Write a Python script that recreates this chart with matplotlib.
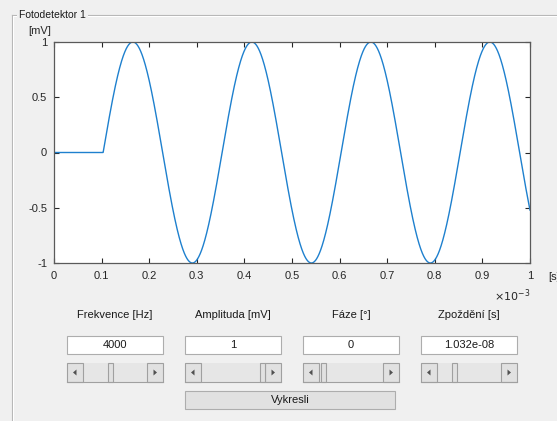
import numpy as np
import matplotlib.pyplot as plt
from matplotlib.patches import Rectangle, Polygon
from matplotlib.ticker import FuncFormatter

# ==========================================
# DATA
# ==========================================

frequency_hz = 4000
amplitude_mv = 1
phase_deg = 0
onset_s = 1.032e-4

x_ticks = np.arange(0, 1.0001e-3, 1e-4)
y_ticks = [-1, -0.5, 0, 0.5, 1]

field_labels = ["Frekvence [Hz]", "Amplituda [mV]", "Fáze [°]", "Zpoždění [s]"]
field_values = ["4000", "1", "0", "1.032e-08"]
slider_positions = [0.42, 1.0, 0.03, 0.25]

t = np.linspace(0, 1e-3, 4001)
signal = np.where(
    t < onset_s,
    0.0,
    amplitude_mv * np.sin(2 * np.pi * frequency_hz * (t - onset_s) + np.radians(phase_deg))
)

# ==========================================
# THEME
# ==========================================

BACKGROUND = "#F0F0F0"
LINE = "#1E80CE"
AXIS = "#262626"
BORDER = "#ADADAD"
FONT = "Liberation Sans"

plt.rcParams["font.family"] = [FONT, "DejaVu Sans"]
plt.rcParams["axes.unicode_minus"] = False

W, H = 557, 421

fig = plt.figure(figsize=(W / 100, H / 100), dpi=100, facecolor=BACKGROUND)

# overlay in pixel coordinates for the GUI widgets
ov = fig.add_axes([0, 0, 1, 1])
ov.set_xlim(0, W)
ov.set_ylim(H, 0)
ov.axis("off")

# ==========================================
# PANEL
# ==========================================

ov.plot([12, W], [15, 15], color="#B4B4B4", lw=0.8)
ov.plot([12, W], [16, 16], color="#FFFFFF", lw=0.8)
ov.plot([12, 12], [15, H], color="#B4B4B4", lw=0.8)
ov.plot([13, 13], [16, H], color="#FFFFFF", lw=0.8)
ov.text(19, 15, "Fotodetektor 1", fontsize=7.5, ha="left", va="center",
        color="#1A1A1A",
        bbox=dict(facecolor=BACKGROUND, edgecolor="none", pad=1.5))

# ==========================================
# CHART
# ==========================================

left, right, top, bottom = 54, 530, 42, 263
ax = fig.add_axes([left / W, 1 - bottom / H, (right - left) / W, (bottom - top) / H])
ax.set_facecolor("white")

ax.plot(t, signal, color=LINE, lw=1.0)

ax.set_xlim(0, 1e-3)
ax.set_ylim(-1, 1)
ax.set_xticks(x_ticks)
ax.set_yticks(y_ticks)
ax.xaxis.set_major_formatter(FuncFormatter(lambda v, _: f"{v * 1e3:g}"))
ax.yaxis.set_major_formatter(FuncFormatter(lambda v, _: f"{v:g}"))

ax.tick_params(direction="in", length=3.5, width=0.8, colors=AXIS,
               labelsize=8, top=True, right=True)
ax.tick_params(axis="x", pad=6)
ax.tick_params(axis="y", pad=5)
for side in ax.spines.values():
    side.set_color("#5A5A5A")
    side.set_linewidth(0.9)

ov.text(28, 31, "[mV]", fontsize=8, ha="left", va="center", color=AXIS)
ov.text(548, 277, "[s]", fontsize=8, ha="left", va="center", color=AXIS)
ov.text(530, 296, r"$\times 10^{-3}$", fontsize=8, ha="right", va="center",
        color=AXIS)

# ==========================================
# CONTROLS
# ==========================================

box_lefts = [67, 185, 303, 421]
box_w = 96


def slider(x0, y0, w, h, pos):
    arrow = 16
    ov.add_patch(Rectangle((x0, y0), w, h, facecolor="#E6E6E6",
                           edgecolor="none"))
    for ax0, dirn in [(x0, -1), (x0 + w - arrow, 1)]:
        ov.add_patch(Rectangle((ax0, y0), arrow, h, facecolor="#E1E1E1",
                               edgecolor="#A0A0A0", lw=0.8))
        cx, cy = ax0 + arrow / 2, y0 + h / 2
        ov.add_patch(Polygon([(cx + 2 * dirn, cy), (cx - 1.5 * dirn, cy - 3),
                              (cx - 1.5 * dirn, cy + 3)],
                             facecolor="#505050", edgecolor="none"))
    thumb_w = 5
    tx = x0 + arrow + pos * (w - 2 * arrow - thumb_w)
    ov.add_patch(Rectangle((tx, y0), thumb_w, h, facecolor="#E1E1E1",
                           edgecolor="#A0A0A0", lw=0.8))
    ov.plot([x0, x0 + w], [y0 + h, y0 + h], color="#A0A0A0", lw=0.8)


for x0, label, value, pos in zip(box_lefts, field_labels, field_values,
                                 slider_positions):
    cx = x0 + box_w / 2
    ov.text(cx, 315, label, fontsize=8, ha="center", va="center",
            color="#1A1A1A")
    ov.add_patch(Rectangle((x0, 336), box_w, 18, facecolor="white",
                           edgecolor=BORDER, lw=0.8))
    ov.text(cx, 345, value, fontsize=8, ha="center", va="center",
            color="#1A1A1A")
    slider(x0, 363, box_w, 19, pos)

ov.add_patch(Rectangle((185, 391), 210, 18, facecolor="#E1E1E1",
                       edgecolor=BORDER, lw=0.8))
ov.text(290, 400, "Vykresli", fontsize=8, ha="center", va="center",
        color="#1A1A1A")

fig.savefig("out.png", dpi=100, facecolor=BACKGROUND)
plt.close(fig)
